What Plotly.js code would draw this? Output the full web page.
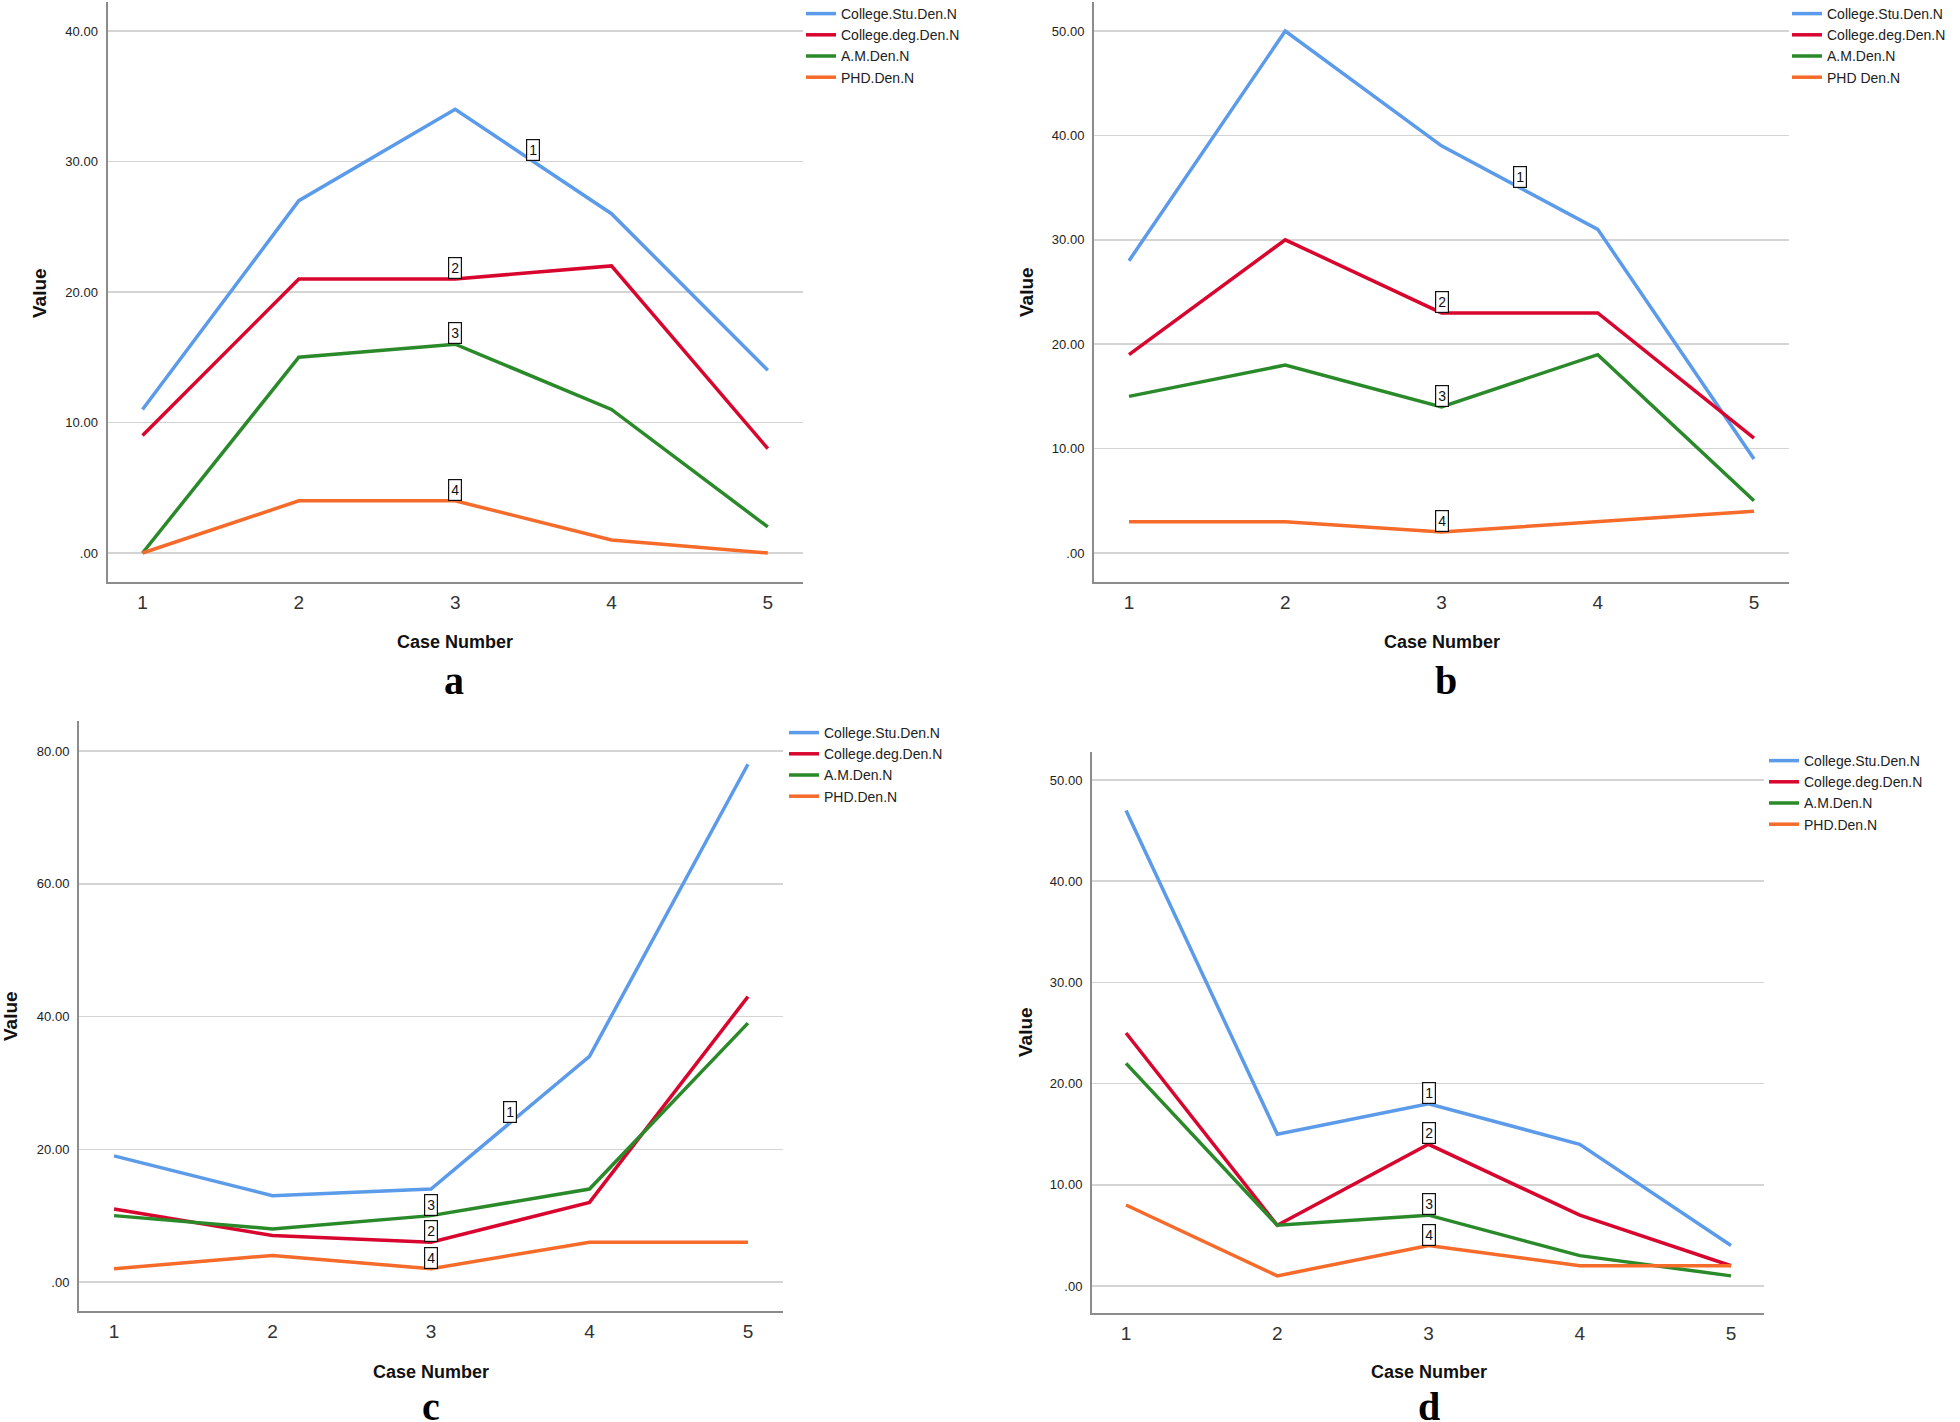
<!DOCTYPE html>
<html>
<head>
<meta charset="utf-8">
<script src="https://cdn.plot.ly/plotly-3.0.1.min.js"></script>
<style>
  html, body { margin: 0; padding: 0; background: #fff; }
  #chart { width: 1960px; height: 1422px; }
</style>
</head>
<body>
<div id="chart"></div>
<script>
// case numbers on the x axis
const cases = [1, 2, 3, 4, 5];

const names = ['College.Stu.Den.N', 'College.deg.Den.N', 'A.M.Den.N', 'PHD.Den.N'];
const namesB = ['College.Stu.Den.N', 'College.deg.Den.N', 'A.M.Den.N', 'PHD Den.N'];

// panel a
const stuA = [11, 27, 34, 26, 14];
const degA = [9, 21, 21, 22, 8];
const amA = [0, 15, 16, 11, 2];
const phdA = [0, 4, 4, 1, 0];
// panel b
const stuB = [28, 50, 39, 31, 9];
const degB = [19, 30, 23, 23, 11];
const amB = [15, 18, 14, 19, 5];
const phdB = [3, 3, 2, 3, 4];
// panel c
const stuC = [19, 13, 14, 34, 78];
const degC = [11, 7, 6, 12, 43];
const amC = [10, 8, 10, 14, 39];
const phdC = [2, 4, 2, 6, 6];
// panel d
const stuD = [47, 15, 18, 14, 4];
const degD = [25, 6, 14, 7, 2];
const amD = [22, 6, 7, 3, 1];
const phdD = [8, 1, 4, 2, 2];

// y ticks
const ticks50 = [0, 10, 20, 30, 40, 50];
const ticks50Text = ['.00', '10.00', '20.00', '30.00', '40.00', '50.00'];
const ticks40 = [0, 10, 20, 30, 40];
const ticks40Text = ['.00', '10.00', '20.00', '30.00', '40.00'];
const ticks80 = [0, 20, 40, 60, 80];
const ticks80Text = ['.00', '20.00', '40.00', '60.00', '80.00'];

// where the line number boxes sit (case number)
const labelPosA = [3.5, 3, 3, 3];
const labelPosB = [3.5, 3, 3, 3];
const labelPosC = [3.5, 3, 3, 3];
const labelPosD = [3, 3, 3, 3];

const colors = ['#5b9bea', '#d8062e', '#2a8a2a', '#f66a2a'];
const W = 1960, H = 1422;
const FONT = 'Liberation Sans, Arial, sans-serif';

function px(x) { return x / W; }
function py(y) { return 1 - y / H; }

function lineAt(vals, x) {
  const i = Math.floor(x) - 1;
  const t = x - Math.floor(x);
  if (!t) return vals[i];
  return vals[i] + (vals[i + 1] - vals[i]) * t;
}

const panels = [
  { n: '', series: [stuA, degA, amA, phdA], names: names, labels: labelPosA,
    tv: ticks40, tt: ticks40Text, box: [107.5, 802.5, 2, 582], xr: [0.776, 5.222], yr: [-2.22, 42.22],
    leg: [801, -2], title: [455, 642], valueY: 293, valueX: 39, letter: 'a', letterPos: [454, 680] },
  { n: '2', series: [stuB, degB, amB, phdB], names: namesB, labels: labelPosB,
    tv: ticks50, tt: ticks50Text, box: [1094, 1789, 2, 582], xr: [0.776, 5.224], yr: [-2.78, 52.78],
    leg: [1787, -2], title: [1442, 642], valueY: 292, valueX: 1027, letter: 'b', letterPos: [1446, 680] },
  { n: '3', series: [stuC, degC, amC, phdC], names: names, labels: labelPosC,
    tv: ticks80, tt: ticks80Text, box: [79, 783, 721, 1311], xr: [0.779, 5.221], yr: [-4.37, 84.52],
    leg: [784, 717], title: [431, 1372], valueY: 1016, valueX: 10, letter: 'c', letterPos: [431, 1406] },
  { n: '4', series: [stuD, degD, amD, phdD], names: names, labels: labelPosD,
    tv: ticks50, tt: ticks50Text, box: [1092, 1764, 752, 1313], xr: [0.775, 5.218], yr: [-2.67, 52.77],
    leg: [1764, 745], title: [1429, 1372], valueY: 1032, valueX: 1025, letter: 'd', letterPos: [1429, 1406] },
];

const data = [];
const layout = {
  width: W, height: H,
  margin: { l: 0, r: 0, t: 0, b: 0, autoexpand: false },
  paper_bgcolor: '#fff', plot_bgcolor: '#fff',
  font: { family: FONT, color: '#222' },
  showlegend: true,
  annotations: [],
};

panels.forEach((p, k) => {
  const xa = 'x' + p.n, ya = 'y' + p.n;
  const legId = 'legend' + (k ? k + 1 : '');
  p.series.forEach((vals, s) => {
    data.push({
      type: 'scatter', mode: 'lines', x: cases, y: vals, name: p.names[s],
      xaxis: xa, yaxis: ya, legend: legId,
      line: { color: colors[s], width: 3.5 }, hoverinfo: 'skip',
    });
    layout.annotations.push({
      xref: xa, yref: ya, x: p.labels[s], y: lineAt(vals, p.labels[s]),
      text: String(s + 1), showarrow: false, xanchor: 'center', yanchor: 'bottom',
      font: { family: FONT, size: 14, color: '#111' },
      bgcolor: '#fff', bordercolor: '#111', borderwidth: 1.2, borderpad: 1, width: 10, height: 18,
    });
  });
  layout['xaxis' + p.n] = {
    domain: [px(p.box[0]), px(p.box[1])], anchor: ya, range: p.xr,
    tickvals: cases, ticktext: cases.map(String), ticks: '', ticklabelstandoff: 2,
    showgrid: false, zeroline: false, showline: true, linecolor: '#8c8c8c', linewidth: 2,
    tickfont: { family: FONT, size: 19, color: '#333' }, fixedrange: true,
  };
  layout['yaxis' + p.n] = {
    domain: [py(p.box[3]), py(p.box[2])], anchor: xa, range: p.yr,
    tickvals: p.tv, ticktext: p.tt, ticks: '', ticklabelstandoff: 5,
    showgrid: true, gridcolor: '#d4d4d4', gridwidth: 1.5, zeroline: false,
    showline: true, linecolor: '#8c8c8c', linewidth: 2,
    tickfont: { family: FONT, size: 13, color: '#222' }, fixedrange: true,
  };
  layout[legId] = {
    x: px(p.leg[0]), y: py(p.leg[1]), xanchor: 'left', yanchor: 'top',
    bgcolor: 'rgba(0,0,0,0)', borderwidth: 0, tracegroupgap: 0,
    font: { family: FONT, size: 14, color: '#222' },
  };
  layout.annotations.push({
    xref: 'paper', yref: 'paper', x: px(p.title[0]), y: py(p.title[1]),
    text: '<b>Case Number</b>', showarrow: false, xanchor: 'center', yanchor: 'middle',
    font: { family: FONT, size: 18, color: '#111' },
  });
  layout.annotations.push({
    xref: 'paper', yref: 'paper', x: px(p.valueX), y: py(p.valueY),
    text: '<b>Value</b>', showarrow: false, textangle: -90, xanchor: 'center', yanchor: 'middle',
    font: { family: FONT, size: 19, color: '#111' },
  });
  layout.annotations.push({
    xref: 'paper', yref: 'paper', x: px(p.letterPos[0]), y: py(p.letterPos[1]),
    text: '<b>' + p.letter + '</b>', showarrow: false, xanchor: 'center', yanchor: 'middle',
    font: { family: 'Liberation Serif, Times New Roman, serif', size: 40, color: '#000' },
  });
});

Plotly.newPlot('chart', data, layout, { displayModeBar: false, staticPlot: true });
</script>
</body>
</html>
